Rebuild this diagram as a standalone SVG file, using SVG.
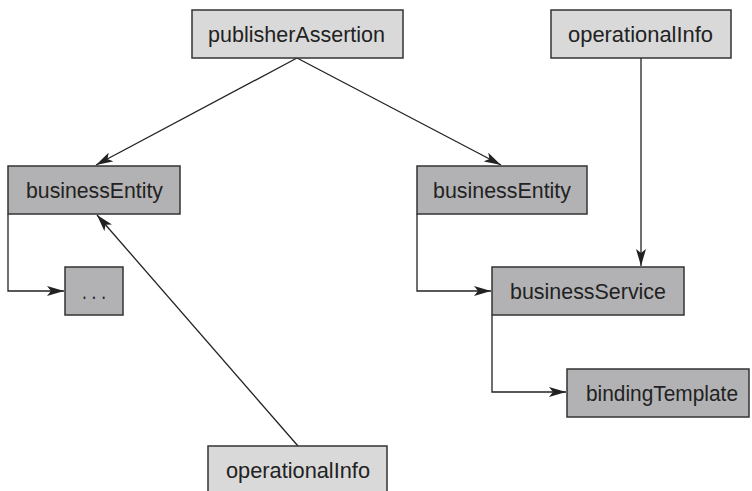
<svg xmlns="http://www.w3.org/2000/svg" width="752" height="491" viewBox="0 0 752 491">
<style>
.light{fill:#d9d9d9;stroke:#333;stroke-width:1.5}
.dark{fill:#b2b2b4;stroke:#333;stroke-width:1.5}
.t{font-family:"Liberation Sans Narrow","Liberation Sans",Arial,sans-serif;font-size:22px;fill:#222;text-anchor:middle}
.c{fill:none;stroke:#222;stroke-width:1.3}
</style>
<defs>
<marker id="a" viewBox="0 0 17 10" refX="17" refY="5" markerWidth="17" markerHeight="10" markerUnits="userSpaceOnUse" orient="auto">
<path d="M0,0 L17,5 L0,10 L4,5 Z" fill="#222"/>
</marker>
</defs>
<rect width="752" height="491" fill="#fff"/>
<g id="connectors">
<line class="c" x1="297" y1="58" x2="96" y2="165" marker-end="url(#a)"/>
<line class="c" x1="297" y1="58" x2="501" y2="165" marker-end="url(#a)"/>
<line class="c" x1="641" y1="58" x2="641" y2="266" marker-end="url(#a)"/>
<polyline class="c" points="8,214 8,291 64,291" marker-end="url(#a)"/>
<polyline class="c" points="417,214 417,291 491,291" marker-end="url(#a)"/>
<polyline class="c" points="492,315 492,392 566,392" marker-end="url(#a)"/>
<line class="c" x1="298" y1="446" x2="97" y2="215" marker-end="url(#a)"/>
</g>
<g id="publisherAssertion"><rect class="light" x="192" y="10" width="211" height="48"/><text class="t" x="296.5" y="42" textLength="177" lengthAdjust="spacingAndGlyphs">publisherAssertion</text></g>
<g id="operationalInfoTop"><rect class="light" x="551" y="10" width="180" height="48"/><text class="t" x="640.5" y="42" textLength="145" lengthAdjust="spacingAndGlyphs">operationalInfo</text></g>
<g id="businessEntityLeft"><rect class="dark" x="8" y="166" width="172" height="48"/><text class="t" x="94.5" y="198" textLength="137" lengthAdjust="spacingAndGlyphs">businessEntity</text></g>
<g id="ellipsis"><rect class="dark" x="65" y="267" width="58" height="48"/><text class="t" x="94" y="299" textLength="24" lengthAdjust="spacingAndGlyphs">. . .</text></g>
<g id="businessEntityRight"><rect class="dark" x="417" y="166" width="170" height="48"/><text class="t" x="502" y="198" textLength="138" lengthAdjust="spacingAndGlyphs">businessEntity</text></g>
<g id="businessService"><rect class="dark" x="492" y="267" width="192" height="48"/><text class="t" x="588" y="299" textLength="156" lengthAdjust="spacingAndGlyphs">businessService</text></g>
<g id="bindingTemplate"><rect class="dark" x="567" y="369" width="182" height="48"/><text class="t" x="662" y="401" textLength="152" lengthAdjust="spacingAndGlyphs">bindingTemplate</text></g>
<g id="operationalInfoBottom"><rect class="light" x="208" y="446" width="179" height="60"/><text class="t" x="298" y="478" textLength="144" lengthAdjust="spacingAndGlyphs">operationalInfo</text></g>
</svg>
